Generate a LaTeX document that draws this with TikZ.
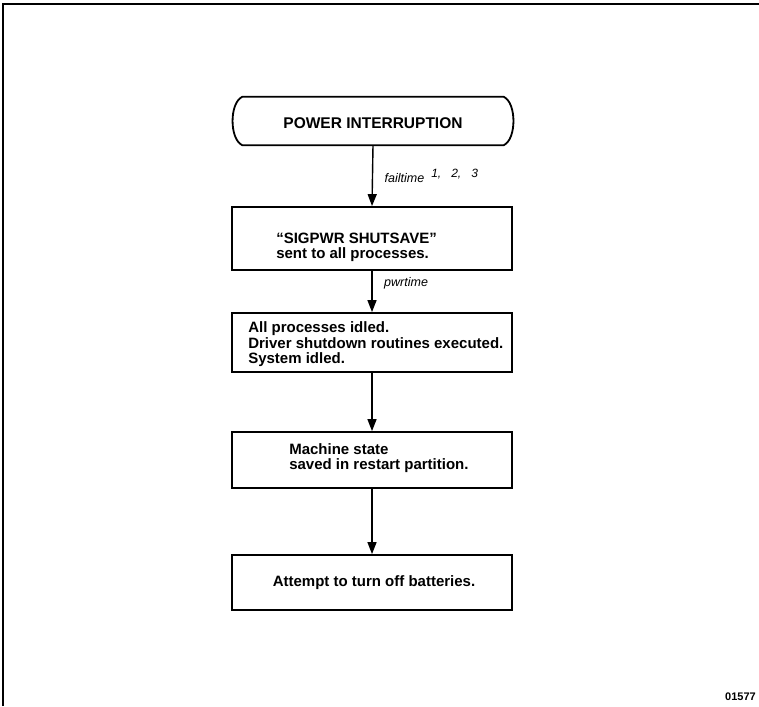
\documentclass[tikz,border=0pt]{standalone}
\usepackage{fontspec}
\setmainfont{Liberation Sans}
\usetikzlibrary{arrows.meta,calc}
\tikzset{
  boxline/.style={line width=1.8pt},
  procbox/.style={draw, boxline, minimum width=280pt, inner sep=0pt},
  boxtxt/.style={font=\fontsize{15}{15.5}\selectfont\bfseries, align=left, inner sep=0pt},
  flow/.style={line width=1.4pt, -{Triangle[length=12pt,width=9pt]}},
  lbl/.style={font=\fontsize{12.5}{14}\selectfont\itshape, anchor=west, inner sep=0pt},
}
\begin{document}
\begin{tikzpicture}[x=1pt,y=-1pt]
\useasboundingbox (0,0) rectangle (759,706);
% frame
\coordinate (fbl) at (3,706);
\coordinate (ftl) at (3,4);
\coordinate (ftr) at (759,4);
\draw[line width=2pt] (fbl) -- (ftl) -- (ftr);

% terminal
\node[minimum width=261pt, minimum height=48pt, inner sep=0pt, boxtxt, font=\fontsize{15.5}{16}\selectfont\bfseries] (term) at (373,121) {};
\node[boxtxt, font=\fontsize{15.5}{16}\selectfont\bfseries] (termtxt) at ([yshift=-2pt]term.center) {POWER INTERRUPTION};
\draw[boxline] (term.north west) -- (term.north east)
  .. controls ([xshift=13pt,yshift=-6pt]term.north east) and ([xshift=13pt,yshift=6pt]term.south east) .. (term.south east)
  -- (term.south west)
  .. controls ([xshift=-13pt,yshift=6pt]term.south west) and ([xshift=-13pt,yshift=-6pt]term.north west) .. cycle;

% boxes
\node[procbox, minimum height=63pt] (b2) at (372,238.5) {};
\node[boxtxt, anchor=west] (t2) at ([xshift=45pt,yshift=-9pt]b2.west) {``SIGPWR SHUTSAVE''\\sent to all processes.};

\node[procbox, minimum height=59pt] (b3) at (372,342.5) {};
\node[boxtxt, anchor=west] (t3) at ([xshift=17pt,yshift=-2pt]b3.west) {All processes idled.\\Driver shutdown routines executed.\\System idled.};

\node[procbox, minimum height=56pt] (b4) at (372,460) {};
\node[boxtxt, anchor=west] (t4) at ([xshift=58pt,yshift=2pt]b4.west) {Machine state\\saved in restart partition.};

\node[procbox, minimum height=55pt] (b5) at (372,582.5) {};
\node[boxtxt] (t5) at ([xshift=2pt]b5.center) {Attempt to turn off batteries.};

% connectors
\draw[flow] (term.south) -- (b2.north);
\draw[flow] (b2.south) -- (b3.north);
\draw[flow] (b3.south) -- (b4.north);
\draw[flow] (b4.south) -- (b5.north);

% labels
\node[lbl] (l1) at ([xshift=12pt]$(term.south)!0.5!(b2.north)$) {failtime\hspace{7pt}\raisebox{5pt}{\fontsize{12}{13}\selectfont 1,\hspace{10pt}2,\hspace{10pt}3}};
\node[lbl] (l2) at ([xshift=12pt]$(b2.south)!0.3!(b3.north)$) {pwrtime};

% figure number
\node[font=\fontsize{11}{12}\selectfont\bfseries, anchor=east, inner sep=0pt] (fig) at (756,697) {01577};
\end{tikzpicture}
\end{document}
